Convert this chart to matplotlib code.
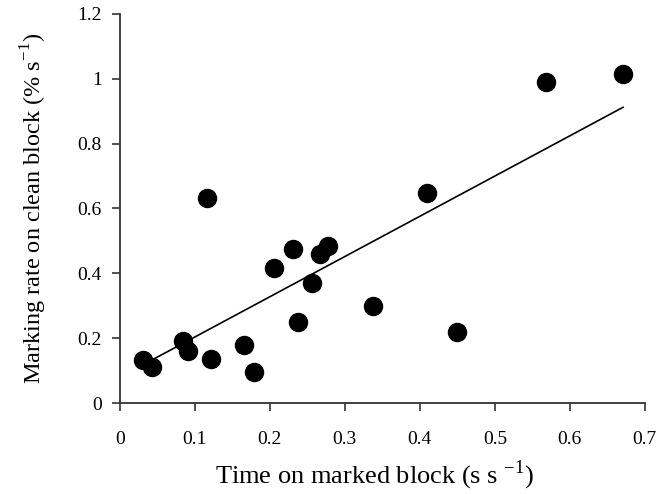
import numpy as np
import matplotlib
matplotlib.use("Agg")
from matplotlib import pyplot as plt

plt.rcParams['font.family'] = ['Liberation Serif', 'DejaVu Serif']
plt.rcParams['mathtext.fontset'] = 'custom'
plt.rcParams['mathtext.rm'] = 'Liberation Serif'

# time on marked block (s s-1) vs marking rate on clean block (% s-1)
time_marked = [0.031, 0.043, 0.084, 0.091, 0.121, 0.116, 0.165, 0.179, 0.205,
               0.231, 0.238, 0.256, 0.267, 0.278, 0.337, 0.410, 0.450, 0.568, 0.671]
marking_rate = [0.133, 0.110, 0.190, 0.160, 0.135, 0.632, 0.180, 0.095, 0.417,
                0.474, 0.250, 0.370, 0.460, 0.484, 0.298, 0.649, 0.220, 0.990, 1.013]

# regression line end points
fit_x = [0.043, 0.671]
fit_y = [0.133, 0.912]

fig = plt.figure(figsize=(6.58, 4.94), dpi=100)
ax = fig.add_axes([0.182, 0.184, 0.798, 0.788])

ax.plot(fit_x, fit_y, color='black', lw=1.2, zorder=2)
ax.plot(time_marked, marking_rate, 'o', color='black', ms=13, zorder=3)

ax.set_xlim(0, 0.7)
ax.set_ylim(0, 1.2)
ax.set_xticks(np.arange(0, 0.71, 0.1))
ax.set_xticklabels(['0', '0.1', '0.2', '0.3', '0.4', '0.5', '0.6', '0.7'])
ax.set_yticks(np.arange(0, 1.21, 0.2))
ax.set_yticklabels(['0', '0.2', '0.4', '0.6', '0.8', '1', '1.2'])

for s in ['top', 'right']:
  ax.spines[s].set_visible(False)
for s in ['left', 'bottom']:
  ax.spines[s].set_color('#333333')
  ax.spines[s].set_linewidth(1.3)
ax.tick_params(direction='out', length=6, width=1.2, color='#333333', labelsize=14)
ax.tick_params(axis='x', pad=14)
ax.tick_params(axis='y', pad=7)

ax.set_xlabel('Time on marked block (s s $^{-1}$)', fontsize=19)
ax.xaxis.set_label_coords(0.485, -0.142)
ax.set_ylabel('Marking rate on clean block (% s$^{-1}$)', fontsize=17.5, labelpad=20)

fig.savefig('out.png', dpi=100)
